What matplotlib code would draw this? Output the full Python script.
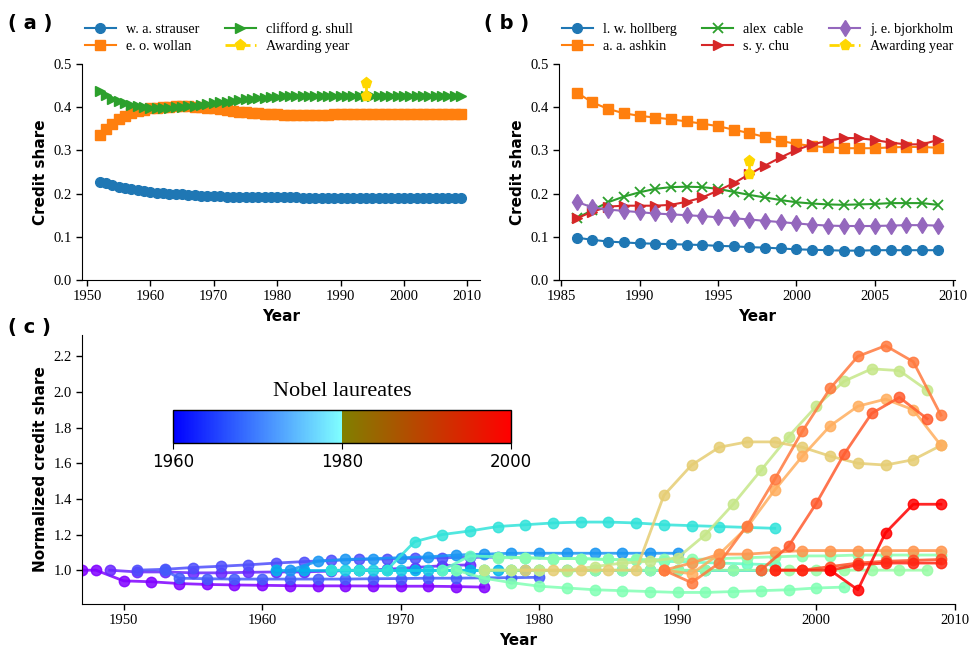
import numpy as np
import matplotlib
matplotlib.use("Agg")
import matplotlib.pyplot as plt
from matplotlib import cm
from matplotlib.colors import LinearSegmentedColormap, Normalize

plt.rcParams['font.family'] = ['Liberation Serif', 'DejaVu Serif']
plt.rcParams['xtick.labelsize'] = 10.5
plt.rcParams['ytick.labelsize'] = 10.5

# ---------------- panel (a) data ----------------
a_years = list(range(1952, 2010))
a_strauser = [.228, .224, .220, .216, .213, .210, .208, .206, .204, .202, .201, .200, .199, .198,
              .197, .196, .195, .195, .194, .194, .193, .193, .193, .192, .192, .192, .192, .191,
              .191, .191, .191, .191, .190, .190, .190, .190, .190, .190, .190, .190, .190, .190,
              .190, .190, .190, .190, .190, .190, .190, .190, .190, .190, .190, .190, .190, .190,
              .190, .190]
a_wollan = [.335, .350, .362, .372, .380, .386, .391, .394, .397, .399, .400, .401, .402, .402,
            .402, .401, .400, .399, .397, .395, .393, .391, .390, .388, .387, .386, .385, .384,
            .384, .383, .383, .383, .383, .383, .383, .383, .383, .384, .384, .385, .385, .385,
            .385, .385, .385, .385, .385, .385, .385, .385, .385, .385, .385, .385, .385, .385,
            .385, .385]
a_shull = [.437, .428, .420, .414, .409, .405, .402, .400, .399, .399, .399, .399, .400, .401,
           .402, .403, .405, .407, .409, .411, .413, .415, .417, .418, .420, .421, .422, .423,
           .424, .425, .425, .426, .426, .427, .427, .427, .427, .427, .427, .427, .427, .427,
           .427, .427, .427, .427, .427, .427, .427, .427, .427, .427, .427, .427, .427, .427,
           .426, .426]
a_award_year = 1994
a_award_vals = [0.426, 0.455]

# ---------------- panel (b) data ----------------
b_years = list(range(1986, 2010))
b_hollberg = [.098, .093, .089, .087, .085, .084, .083, .082, .081, .079, .078, .076, .075, .073,
              .071, .070, .069, .068, .068, .069, .069, .069, .069, .069]
b_ashkin = [.434, .411, .396, .386, .380, .376, .372, .367, .362, .356, .348, .340, .331, .322,
            .315, .310, .307, .305, .305, .305, .307, .308, .308, .306]
b_cable = [.143, .162, .180, .193, .203, .211, .215, .216, .215, .211, .204, .197, .191, .185,
           .180, .177, .175, .174, .175, .176, .178, .178, .178, .174]
b_chu = [.143, .158, .170, .172, .172, .172, .174, .181, .191, .207, .224, .245, .265, .284,
         .301, .314, .322, .329, .328, .324, .318, .314, .314, .324]
b_bjorkholm = [.181, .168, .163, .160, .157, .154, .152, .150, .148, .145, .143, .140, .137, .134,
               .131, .128, .126, .125, .125, .125, .126, .127, .127, .126]
b_award_year = 1997
b_award_vals = [0.245, 0.275]

# ---------------- panel (c) data ----------------
c_years = [
    [1947, 1948] + list(range(1950, 1977, 2)),
    list(range(1949, 1976, 2)),
    list(range(1951, 1978, 2)),
    [1953] + list(range(1954, 1981, 2)),
    list(range(1961, 1980, 2)),
    [1962] + list(range(1964, 1991, 2)),
    list(range(1966, 1997, 2)),
    list(range(1965, 1998, 2)),
    list(range(1973, 1998, 2)),
    list(range(1974, 2003, 2)),
    list(range(1976, 2009, 2)),
    list(range(1977, 2010, 2)),
    list(range(1976, 2009, 2)),
    list(range(1979, 2010, 2)),
    list(range(1989, 2010, 2)),
    list(range(1989, 2010, 2)),
    list(range(1989, 2010, 2)),
    list(range(1996, 2009, 2)),
    list(range(1997, 2010, 2)),
    list(range(1997, 2010, 2)),
    list(range(2001, 2010, 2)),
]
c_values = [
    [1.0, 1.0, 0.94, 0.935, 0.925, 0.92, 0.917, 0.915, 0.913, 0.912, 0.912, 0.911, 0.91, 0.91, 0.908, 0.905],
    [1.0, 0.99, 0.99, 0.985, 0.985, 0.988, 0.99, 0.99, 0.995, 1.0, 1.005, 1.015, 1.025, 1.03],
    [1.0, 1.005, 1.015, 1.022, 1.03, 1.04, 1.048, 1.055, 1.06, 1.063, 1.067, 1.07, 1.072, 1.073],
    [1.0, 0.955, 0.952, 0.95, 0.95, 0.95, 0.95, 0.95, 0.952, 0.953, 0.955, 0.955, 0.957, 0.958, 0.96],
    [1.0, 1.0, 1.0, 1.0, 1.0, 1.0, 1.0, 1.0, 1.0, 1.0],
    [1.0, 1.05, 1.06, 1.065, 1.07, 1.075, 1.085, 1.09, 1.095, 1.095, 1.095, 1.095, 1.095, 1.095, 1.095],
    [1.0, 1.0, 1.0, 1.0, 1.0, 1.0, 1.0, 1.0, 1.0, 1.0, 1.0, 1.0, 1.0, 1.0, 1.0, 1.0],
    [1.0, 1.0, 1.0, 1.16, 1.2, 1.22, 1.245, 1.255, 1.265, 1.27, 1.27, 1.265, 1.255, 1.25, 1.245, 1.24, 1.235],
    [1.0, 1.08, 1.075, 1.07, 1.065, 1.065, 1.06, 1.055, 1.05, 1.045, 1.04, 1.035, 1.03],
    [1.0, 0.955, 0.93, 0.91, 0.9, 0.89, 0.885, 0.88, 0.875, 0.875, 0.88, 0.885, 0.89, 0.9, 0.905],
    [1.0, 1.0, 1.0, 0.995, 1.0, 1.0, 1.0, 1.0, 1.0, 1.0, 1.0, 1.0, 1.0, 1.0, 1.0, 1.0, 1.0],
    [1.07, 1.07, 1.065, 1.065, 1.06, 1.06, 1.06, 1.06, 1.065, 1.07, 1.075, 1.08, 1.08, 1.085, 1.085, 1.085, 1.085],
    [1.0, 1.0, 1.0, 1.0, 1.02, 1.04, 1.05, 1.07, 1.2, 1.37, 1.56, 1.75, 1.92, 2.06, 2.13, 2.12, 2.01],
    [1.0, 1.0, 1.0, 1.0, 1.0, 1.42, 1.59, 1.69, 1.72, 1.72, 1.69, 1.64, 1.60, 1.59, 1.62, 1.70],
    [1.0, 0.98, 1.09, 1.24, 1.45, 1.64, 1.81, 1.92, 1.96, 1.90, 1.70],
    [1.0, 1.04, 1.09, 1.09, 1.10, 1.11, 1.11, 1.11, 1.11, 1.11, 1.11],
    [1.0, 0.93, 1.04, 1.25, 1.51, 1.78, 2.02, 2.20, 2.26, 2.17, 1.87],
    [1.0, 1.135, 1.375, 1.65, 1.88, 1.97, 1.85],
    [1.0, 1.0, 1.02, 1.04, 1.05, 1.055, 1.06],
    [1.0, 1.0, 1.0, 1.03, 1.04, 1.04, 1.04],
    [1.0, 0.89, 1.21, 1.37, 1.37],
]
c_color_pos = [0.0, 0.05, 0.1, 0.12, 0.25, 0.2, 0.3, 0.35, 0.45, 0.5, 0.55, 0.52, 0.64, 0.7,
               0.76, 0.8, 0.84, 0.88, 0.9, 0.95, 1.0]

bar_ticks = [1960, 1980, 2000]

# ---------------- figure ----------------
fig = plt.figure(figsize=(9.73, 6.53), dpi=100)
ax_a = fig.add_axes([0.0843, 0.5712, 0.409, 0.3308])
ax_b = fig.add_axes([0.5745, 0.5712, 0.407, 0.3308])
ax_c = fig.add_axes([0.0843, 0.075, 0.897, 0.412])

label_font = dict(family='DejaVu Sans', fontweight='bold', fontsize=11)


def style_axis(ax):
    ax.spines['top'].set_visible(False)
    ax.spines['right'].set_visible(False)
    ax.tick_params(direction='out', length=4, width=1)


ms = 7
ax_a.plot(a_years, a_strauser, 'o-', color='#1f77b4', ms=ms, lw=1.5, label='w. a. strauser')
ax_a.plot(a_years, a_wollan, 's-', color='#ff7f0e', ms=ms, lw=1.5, label='e. o. wollan')
ax_a.plot(a_years, a_shull, '>-', color='#2ca02c', ms=ms, lw=1.5, label='clifford g. shull')
ax_a.plot([a_award_year] * 2, a_award_vals, 'p--', color='#ffd700', ms=8, lw=2,
          label='Awarding year', zorder=5)
ax_a.set_xlim(1949.2, 2012)
ax_a.set_ylim(0, 0.5)
ax_a.set_xticks(range(1950, 2011, 10))
ax_a.set_yticks(np.arange(0, 0.51, 0.1))
ax_a.yaxis.set_major_formatter(plt.FormatStrFormatter('%.1f'))
ax_a.set_xlabel('Year', **label_font)
ax_a.set_ylabel('Credit share', **label_font)
style_axis(ax_a)
ax_a.legend(ncol=2, loc='lower left', bbox_to_anchor=(-0.025, 0.99), frameon=False,
            fontsize=10.2, handlelength=2.2, handletextpad=0.7, columnspacing=1.8,
            labelspacing=0.3)

ax_b.plot(b_years, b_hollberg, 'o-', color='#1f77b4', ms=ms, lw=1.5, label='l. w. hollberg')
ax_b.plot(b_years, b_ashkin, 's-', color='#ff7f0e', ms=ms, lw=1.5, label='a. a. ashkin')
ax_b.plot(b_years, b_cable, 'x-', color='#2ca02c', ms=ms, lw=1.5, mew=1.3, label='alex  cable')
ax_b.plot(b_years, b_chu, '>-', color='#d62728', ms=ms, lw=1.5, label='s. y. chu')
ax_b.plot(b_years, b_bjorkholm, 'd-', color='#9467bd', ms=ms + 1, lw=1.5, label='j. e. bjorkholm')
ax_b.plot([b_award_year] * 2, b_award_vals, 'p--', color='#ffd700', ms=8, lw=2,
          label='Awarding year', zorder=5)
ax_b.set_xlim(1984.87, 2010.1)
ax_b.set_ylim(0, 0.5)
ax_b.set_xticks(range(1985, 2011, 5))
ax_b.set_yticks(np.arange(0, 0.51, 0.1))
ax_b.yaxis.set_major_formatter(plt.FormatStrFormatter('%.1f'))
ax_b.set_xlabel('Year', **label_font)
ax_b.set_ylabel('Credit share', **label_font)
style_axis(ax_b)
ax_b.legend(ncol=3, loc='lower left', bbox_to_anchor=(-0.025, 0.99), frameon=False,
            fontsize=10.2, handlelength=2.2, handletextpad=0.7, columnspacing=1.8,
            labelspacing=0.3)

for yrs, vals, cp in zip(c_years, c_values, c_color_pos):
    ax_c.plot(yrs, vals, 'o-', color=cm.rainbow(cp), alpha=0.85, ms=7.5, lw=2)
ax_c.set_xlim(1947, 2010)
ax_c.set_ylim(0.81, 2.32)
ax_c.set_xticks(range(1950, 2011, 10))
ax_c.set_yticks(np.arange(1.0, 2.21, 0.2))
ax_c.yaxis.set_major_formatter(plt.FormatStrFormatter('%.1f'))
ax_c.set_xlabel('Year', **label_font)
ax_c.set_ylabel('Normalized credit share', **label_font)
style_axis(ax_c)

# two-part colour bar
cdict = {'red': [(0, 0, 0), (0.5, 0.5, 0.5), (1, 1, 1)],
         'green': [(0, 0, 0), (0.5, 1, 0.5), (1, 0, 0)],
         'blue': [(0, 1, 1), (0.5, 1, 0), (1, 0, 0)]}
bar_cmap = LinearSegmentedColormap('nobel', cdict)
cax = fig.add_axes([0.1778, 0.3216, 0.3474, 0.0505])
sm = cm.ScalarMappable(norm=Normalize(bar_ticks[0], bar_ticks[-1]), cmap=bar_cmap)
cb = fig.colorbar(sm, cax=cax, orientation='horizontal', ticks=bar_ticks)
cb.outline.set_linewidth(1)
cax.tick_params(labelsize=12, length=4)
for t in cax.get_xticklabels():
    t.set_fontfamily('DejaVu Sans')
cax.set_title('Nobel laureates', fontsize=16, pad=10)

# panel letters
for x, y, s in [(0.008, 0.955, '( a )'), (0.497, 0.955, '( b )'), (0.008, 0.49, '( c )')]:
    fig.text(x, y, s, family='DejaVu Sans', fontweight='bold', fontsize=14)

fig.savefig('out.png', dpi=100)
